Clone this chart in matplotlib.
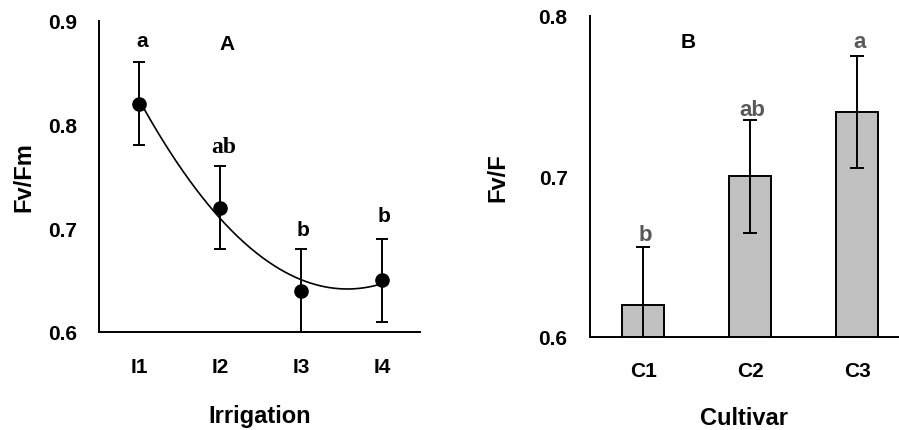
import numpy as np
import matplotlib
matplotlib.use("Agg")
import matplotlib.pyplot as plt

# ---- data ----
irrigation = ["I1", "I2", "I3", "I4"]
fvfm = [0.82, 0.72, 0.64, 0.65]
fvfm_err = [0.04, 0.04, 0.04, 0.04]
fvfm_letters = ["a", "ab", "b", "b"]

cultivar = ["C1", "C2", "C3"]
fvf = [0.62, 0.70, 0.74]
fvf_err = [0.036, 0.035, 0.035]
fvf_letters = ["b", "ab", "a"]

plt.rcParams["font.family"] = ["Liberation Sans", "DejaVu Sans"]
plt.rcParams["font.weight"] = "bold"

fig = plt.figure(figsize=(8.99, 4.31), dpi=100)

# ---- Panel A ----
axA = fig.add_axes([0.110, 0.2274, 0.357, 0.7216])
x = np.arange(1, len(irrigation) + 1)
coef = np.polyfit(x, fvfm, 2)
xs = np.linspace(1, 4, 200)
axA.plot(xs, np.polyval(coef, xs), color="black", lw=1.2, zorder=2)
axA.errorbar(x, fvfm, yerr=fvfm_err, fmt="o", color="black", ms=9.5,
             ecolor="black", elinewidth=1.4, capsize=4.5, capthick=1.4, zorder=3)
axA.set_xlim(0.5, 4.47)
axA.set_ylim(0.6, 0.9)
axA.set_yticks([0.6, 0.7, 0.8, 0.9])
axA.set_yticklabels(["0.6", "0.7", "0.8", "0.9"])
axA.set_xticks(x)
axA.set_xticklabels(irrigation)
for s in ["top", "right"]:
    axA.spines[s].set_visible(False)
for s in ["left", "bottom"]:
    axA.spines[s].set_linewidth(1.4)
axA.tick_params(length=0, labelsize=15, pad=18)
axA.tick_params(axis="y", pad=16)
axA.set_ylabel("Fv/Fm", fontsize=17, fontweight="bold", labelpad=9)
axA.set_xlabel("Irrigation", fontsize=17, fontweight="bold", labelpad=20)
lettersA_y = [0.881, 0.779, 0.699, 0.712]
for xi, yi, t in zip(x, lettersA_y, fvfm_letters):
    if t == "ab":
        axA.text(xi + 0.04, yi, t, ha="center", va="center", fontsize=17,
                 fontweight="bold", family="Liberation Serif")
    else:
        axA.text(xi + 0.03, yi, t, ha="center", va="center", fontsize=15, fontweight="bold")
axA.text(2.09, 0.878, "A", ha="center", va="center", fontsize=15, fontweight="bold")

# ---- Panel B ----
axB = fig.add_axes([0.656, 0.2158, 0.344, 0.7448])
xb = np.arange(1, len(cultivar) + 1)
axB.bar(xb, np.array(fvf) - 0.6, bottom=0.6, width=0.39, color="#C0C0C0",
        edgecolor="black", linewidth=1.4, zorder=2)
axB.errorbar(xb, fvf, yerr=fvf_err, fmt="none", ecolor="black", elinewidth=1.4,
             capsize=5, capthick=1.4, zorder=3)
axB.set_xlim(0.5, 3.39)
axB.set_ylim(0.6, 0.8)
axB.set_yticks([0.6, 0.7, 0.8])
axB.set_yticklabels(["0.6", "0.7", "0.8"])
axB.set_xticks(xb)
axB.set_xticklabels(cultivar)
for s in ["top", "right"]:
    axB.spines[s].set_visible(False)
for s in ["left", "bottom"]:
    axB.spines[s].set_linewidth(1.4)
axB.tick_params(length=0, labelsize=15, pad=17)
axB.tick_params(axis="y", pad=16)
axB.set_ylabel("Fv/F", fontsize=17, fontweight="bold", labelpad=21)
axB.set_xlabel("Cultivar", fontsize=17, fontweight="bold", labelpad=19)
lettersB_y = [0.664, 0.742, 0.784]
for xi, yi, t in zip(xb, lettersB_y, fvf_letters):
    axB.text(xi + 0.02, yi, t, ha="center", va="center", fontsize=16,
             fontweight="bold", color="#595959")
axB.text(1.42, 0.784, "B", ha="center", va="center", fontsize=15, fontweight="bold")

fig.savefig("out.png", dpi=100)
